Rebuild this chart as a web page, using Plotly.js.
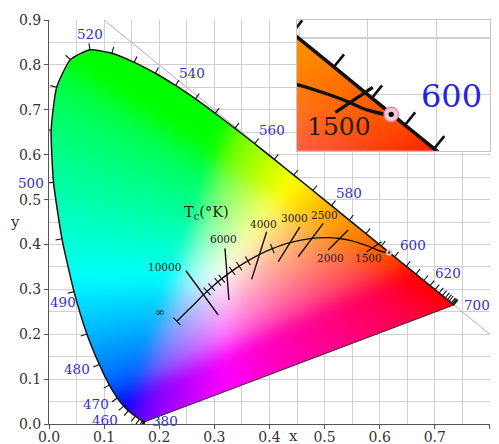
<!DOCTYPE html>
<html>
<head>
<meta charset="utf-8">
<script src="https://cdn.plot.ly/plotly-3.0.1.min.js"></script>
<style>
html,body{margin:0;padding:0;background:#fff;}
#chart{width:499px;height:444px;}
</style>
</head>
<body>
<div id="chart"></div>
<script>
// ---------------- DATA ----------------
// CIE 1931 spectral locus (wavelength in nm)
const wavelengths = [380,390,400,410,420,430,440,450,460,465,470,475,480,485,490,495,500,505,510,515,520,525,530,535,540,545,550,555,560,565,570,575,580,585,590,595,600,605,610,615,620,625,630,635,640,645,650,660,670,680,700];
const locusX = [0.1741,0.1738,0.1733,0.1726,0.1714,0.1689,0.1644,0.1566,0.1440,0.1355,0.1241,0.1096,0.0913,0.0687,0.0454,0.0235,0.0082,0.0039,0.0139,0.0389,0.0743,0.1142,0.1547,0.1929,0.2296,0.2658,0.3016,0.3373,0.3731,0.4087,0.4441,0.4788,0.5125,0.5448,0.5752,0.6029,0.6270,0.6482,0.6658,0.6801,0.6915,0.7006,0.7079,0.7140,0.7190,0.7230,0.7260,0.7300,0.7320,0.7334,0.7347];
const locusY = [0.0050,0.0049,0.0048,0.0048,0.0051,0.0069,0.0109,0.0177,0.0297,0.0399,0.0578,0.0868,0.1327,0.2007,0.2950,0.4127,0.5384,0.6548,0.7502,0.8120,0.8338,0.8262,0.8059,0.7816,0.7543,0.7243,0.6923,0.6589,0.6245,0.5896,0.5547,0.5202,0.4866,0.4544,0.4242,0.3965,0.3725,0.3514,0.3340,0.3197,0.3083,0.2993,0.2920,0.2859,0.2809,0.2770,0.2740,0.2700,0.2680,0.2666,0.2653];
const waveLabels = [380,460,470,480,490,500,520,540,560,580,600,620,700];

// Planckian locus
const planckT = ['∞',15000,12000,10000,9000,8000,7000,6500,6000,5500,5000,4500,4000,3500,3000,2500,2200,2000,1800,1600,1500,1400,1300];
const planckX = [0.2320,0.2637,0.2718,0.2807,0.2869,0.2952,0.3064,0.3135,0.3221,0.3325,0.3451,0.3608,0.3805,0.4053,0.4369,0.4770,0.5064,0.5267,0.5497,0.5730,0.5857,0.5993,0.6160];
const planckY = [0.2290,0.2672,0.2776,0.2884,0.2956,0.3048,0.3166,0.3236,0.3318,0.3411,0.3516,0.3636,0.3768,0.3907,0.4041,0.4137,0.4152,0.4133,0.4081,0.3990,0.3931,0.3860,0.3810];
const planckMinorT = ['∞',9000,8000,7000,6500,5500,5000,4500,3500];

// Isotherm (constant Tc) lines: upper end and lower end
const isoT  = [10000,6000,4000,3000,2500,2000,1500];
const isoX1 = [0.2485,0.3193,0.3949,0.4553,0.4976,0.5429,0.6035];
const isoY1 = [0.3415,0.3914,0.4284,0.4395,0.4471,0.4322,0.4061];
const isoX2 = [0.3071,0.3265,0.3677,0.4160,0.4522,0.5067,0.5763];
const isoY2 = [0.2428,0.2762,0.3223,0.3616,0.3727,0.3876,0.3838];

// Measured sample chromaticity
const sampleX = [0.617];
const sampleY = [0.382];

// x + y = 1 reference line
const diagX = [0.1, 0.8];
const diagY = [0.9, 0.2];

// ---------------- STYLE / LAYOUT ----------------
const W = 499, H = 444;
const M = {l:49, r:9, t:20, b:20};
const PW = W - M.l - M.r, PH = H - M.t - M.b;
const XR = [0, 0.8002], YR = [0, 0.9002];
const sx = PW / (XR[1]-XR[0]), sy = PH / (YR[1]-YR[0]);
const INSET_DOM_X = [0.5624, 1], INSET_DOM_Y = [0.6766, 1];
const IXR = [0.5484, 0.6889], IYR = [0.3497, 0.4660];
const FONT = 'DejaVu Serif, Liberation Serif, serif';
const BLUE = '#3333b8';
const GRID = '#d0d0d0';

// pixel offsets (screen px, +y down) of wavelength labels from their locus point
const waveLabelShift = {380:[20,-1],460:[-23,9],470:[-21.6,6],480:[-22,5],490:[-11,10],500:[-22.5,1],520:[0,-16],540:[16,-12],560:[17,-14],580:[17.5,-12.6],600:[18.7,-11.8],620:[18,-12.6],700:[23.5,0]};
// temperature label shifts (relative to upper end, or lower end for 2000/1500)
const isoLabelShift = {10000:[-2.7,-4,'right','top'],6000:[-1,-9,'center','top'],4000:[-3.4,-7.7,'center','top'],3000:[-5,-8.4,'center','top'],2500:[1.7,-8.3,'center','top'],2000:[2.7,7.5,'center','bottom'],1500:[1.6,5.8,'center','bottom']};

// ---------------- COLOUR FILL (image of the gamut) ----------------
function chroma(x, y) {
  if (y < 0.002) y = 0.002;
  const s = x + y;
  if (s > 0.999) { x = x*0.999/s; y = y*0.999/s; }
  const X = x / y, Y = 1, Z = (1 - x - y) / y;
  let r = 3.2406*X - 1.5372*Y - 0.4986*Z;
  let g = -0.9689*X + 1.8758*Y + 0.0415*Z;
  let b = 0.0557*X - 0.2040*Y + 1.0570*Z;
  r = Math.max(r,0); g = Math.max(g,0); b = Math.max(b,0);
  const m = Math.max(r,g,b) || 1;
  const gam = v => { v = v/m; return v <= 0.0031308 ? 12.92*v : 1.055*Math.pow(v,1/2.4) - 0.055; };
  return [gam(r)*255, gam(g)*255, gam(b)*255];
}
function boxBlur(a, w, h, r) {
  const t = new Float32Array(a.length);
  const n = 2*r+1;
  for (let j = 0; j < h; j++) {
    let s = 0;
    for (let k = -r; k <= r; k++) s += a[j*w + Math.min(w-1, Math.max(0,k))];
    for (let i = 0; i < w; i++) {
      t[j*w+i] = s/n;
      s += a[j*w + Math.min(w-1, i+r+1)] - a[j*w + Math.max(0, i-r)];
    }
  }
  for (let i = 0; i < w; i++) {
    let s = 0;
    for (let k = -r; k <= r; k++) s += t[Math.min(h-1, Math.max(0,k))*w + i];
    for (let j = 0; j < h; j++) {
      a[j*w+i] = s/n;
      s += t[Math.min(h-1, j+r+1)*w + i] - t[Math.max(0, j-r)*w + i];
    }
  }
}
// row 0 of the canvas holds the LOWEST y (plotly draws row 0 at y0 here)
function gamutImage(xr, yr, w, h, r) {
  const pad = 3*r + 2, w2 = w + 2*pad, h2 = h + 2*pad;
  const ddx = (xr[1]-xr[0])/w, ddy = (yr[1]-yr[0])/h;
  const R = new Float32Array(w2*h2), G = new Float32Array(w2*h2), B = new Float32Array(w2*h2);
  for (let j = 0; j < h2; j++) {
    const y = yr[0] + (j - pad + 0.5)*ddy;
    for (let i = 0; i < w2; i++) {
      const x = xr[0] + (i - pad + 0.5)*ddx;
      const c3 = chroma(x, y), k = j*w2+i;
      R[k] = c3[0]; G[k] = c3[1]; B[k] = c3[2];
    }
  }
  [R,G,B].forEach(ch => { boxBlur(ch, w2, h2, r); boxBlur(ch, w2, h2, r); boxBlur(ch, w2, h2, r); });
  const c = document.createElement('canvas'); c.width = w; c.height = h;
  const ctx = c.getContext('2d');
  const img = ctx.createImageData(w, h);
  for (let j = 0; j < h; j++) for (let i = 0; i < w; i++) {
    const k = 4*(j*w+i), q = (j+pad)*w2 + (i+pad);
    img.data[k] = R[q]; img.data[k+1] = G[q]; img.data[k+2] = B[q]; img.data[k+3] = 255;
  }
  ctx.putImageData(img, 0, 0);
  ctx.globalCompositeOperation = 'destination-in';
  ctx.beginPath();
  for (let k = 0; k < locusX.length; k++) {
    const px = (locusX[k]-xr[0])/(xr[1]-xr[0])*w, py = (locusY[k]-yr[0])/(yr[1]-yr[0])*h;
    if (k === 0) ctx.moveTo(px, py); else ctx.lineTo(px, py);
  }
  ctx.closePath(); ctx.fill();
  return c.toDataURL('image/png');
}
function imageTrace(xr, yr, w, h, r, xa, ya) {
  const dx = (xr[1]-xr[0])/w, dy = (yr[1]-yr[0])/h;
  return {type:'image', source: gamutImage(xr, yr, w, h, r), x0: xr[0]+dx/2, dx: dx,
          y0: yr[1]-dy/2, dy: -dy, xaxis: xa, yaxis: ya, hoverinfo:'skip'};
}

// ---------------- TICKS ALONG CURVES ----------------
function normalAt(X, Y, i) {
  let a = i, b = i;
  const dist = (p,q) => Math.hypot((X[p]-X[q])*sx, (Y[p]-Y[q])*sy);
  do { a = Math.max(a-1, 0); } while (a > 0 && dist(a,i) < 3);
  do { b = Math.min(b+1, X.length-1); } while (b < X.length-1 && dist(b,i) < 3);
  const dx = (X[b]-X[a])*sx, dy = (Y[b]-Y[a])*sy;
  const L = Math.hypot(dx, dy) || 1;
  return [-dy/L, dx/L];   // left normal (outward for this traversal)
}
function tickSegments(X, Y, idx, lenOut, lenIn) {
  const tx = [], ty = [];
  idx.forEach(i => {
    const n = normalAt(X, Y, i);
    tx.push(X[i] - n[0]*lenIn/sx, X[i] + n[0]*lenOut/sx, null);
    ty.push(Y[i] - n[1]*lenIn/sy, Y[i] + n[1]*lenOut/sy, null);
  });
  return [tx, ty];
}
const locusTicks = tickSegments(locusX, locusY, wavelengths.map((w,i)=>i), 6.5, 0);
const planckTicks = tickSegments(planckX, planckY, planckMinorT.map(t => planckT.indexOf(t)), 5, 5);

const isoLX = [], isoLY = [];
isoT.forEach((t,i) => { isoLX.push(isoX1[i], isoX2[i], null); isoLY.push(isoY1[i], isoY2[i], null); });

// ---------------- TRACES ----------------
function curveTraces(xa, ya, k) {
  return [
    {x: diagX, y: diagY, mode:'lines', line:{color:'#b0b0b0', width:1*k}, xaxis:xa, yaxis:ya, hoverinfo:'skip'},
    null, // placeholder for image
    {x: [locusX[locusX.length-1], locusX[0]], y: [locusY[locusY.length-1], locusY[0]], mode:'lines',
     line:{color:'#333', width:1*k}, xaxis:xa, yaxis:ya, hoverinfo:'skip'},
    {x: locusX, y: locusY, mode:'lines', line:{color:'#111', width:1.5*k, shape:'spline', smoothing:0.5}, xaxis:xa, yaxis:ya, hoverinfo:'skip'},
    {x: locusTicks[0], y: locusTicks[1], mode:'lines', line:{color:'#111', width:1.1*k}, xaxis:xa, yaxis:ya, hoverinfo:'skip'},
    {x: isoLX, y: isoLY, mode:'lines', line:{color:'#111', width:1.4*k}, xaxis:xa, yaxis:ya, hoverinfo:'skip'},
    {x: planckX, y: planckY, mode:'lines', line:{color:'#111', width:1.4*k, shape:'spline', smoothing:0.8}, xaxis:xa, yaxis:ya, hoverinfo:'skip'},
    {x: planckTicks[0], y: planckTicks[1], mode:'lines', line:{color:'#111', width:1.1*k}, xaxis:xa, yaxis:ya, hoverinfo:'skip'},
    {x: sampleX, y: sampleY, mode:'markers', marker:{size:5*k*1.2, color:'#f7c8d8', line:{color:'#d890ac', width:0.6*k}}, xaxis:xa, yaxis:ya, hoverinfo:'skip'},
    {x: sampleX, y: sampleY, mode:'markers', marker:{size:2.2*k, color:'#000'}, xaxis:xa, yaxis:ya, hoverinfo:'skip'}
  ];
}
const mainTr = curveTraces('x','y',1);
mainTr[1] = imageTrace([0,0.8],[0,0.9], Math.round(0.8*sx), Math.round(0.9*sy), 7, 'x','y');
const insetTr = curveTraces('x2','y2',2.4);
insetTr[1] = imageTrace(IXR, IYR, Math.round(PW*(INSET_DOM_X[1]-INSET_DOM_X[0])), Math.round(PH*(INSET_DOM_Y[1]-INSET_DOM_Y[0])), 17, 'x2','y2');
const traces = mainTr.concat(insetTr);

// ---------------- ANNOTATIONS ----------------
const ann = [];
const labelPos = {};
waveLabels.forEach(w => {
  const i = wavelengths.indexOf(w), s = waveLabelShift[w];
  labelPos[w] = [locusX[i] + s[0]/sx, locusY[i] - s[1]/sy];
  ann.push({x: locusX[i], y: locusY[i], xref:'x', yref:'y', xshift: s[0], yshift: -s[1],
            text: String(w), showarrow:false,
            xanchor:'center', yanchor:'middle', font:{family:FONT, size:13.5, color:BLUE}});
});
const tempPos = {};
isoT.forEach((t,i) => {
  const s = isoLabelShift[t];
  const useTop = s[3] === 'top';
  const bx = useTop ? isoX1[i] : isoX2[i], by = useTop ? isoY1[i] : isoY2[i];
  tempPos[t] = [bx + s[0]/sx, by - s[1]/sy];
  ann.push({x: bx, y: by, xref:'x', yref:'y', xshift: s[0], yshift: -s[1], text: String(t), showarrow:false,
            xanchor: s[2], yanchor:'middle', font:{family:FONT, size:10.5, color:'#222'}});
});
// infinity label
{
  const i = planckT.indexOf('∞');
  ann.push({x: planckX[i], y: planckY[i], xshift:-17, yshift:9.5, xref:'x', yref:'y', text:'∞', showarrow:false,
            xanchor:'center', yanchor:'middle', font:{family:FONT, size:12, color:'#222'}});
}
ann.push({x: 0.2855, y: 0.4695, xref:'x', yref:'y', text:'T<sub>c</sub>(°K)', showarrow:false,
          xanchor:'center', yanchor:'middle', font:{family:FONT, size:14.5, color:'#1a2a1a'}});
// inset labels (magnified view of the same labels)
ann.push({x: labelPos[600][0], y: labelPos[600][1], xref:'x2', yref:'y2', text:'600', showarrow:false,
          xanchor:'center', yanchor:'middle', font:{family:FONT, size:32, color:'#2424d8'}});
ann.push({x: tempPos[1500][0], y: tempPos[1500][1], xref:'x2', yref:'y2', text:'1500', showarrow:false,
          xanchor:'center', yanchor:'middle', font:{family:FONT, size:25, color:'#2a1a0a'}});
// axis titles
ann.push({x: (293-M.l)/PW, y: (M.t+PH-436)/PH, xref:'paper', yref:'paper', text:'x', showarrow:false,
          xanchor:'center', yanchor:'middle', font:{family:FONT, size:15, color:'#333'}});
ann.push({x: (15-M.l)/PW, y: (M.t+PH-222)/PH, xref:'paper', yref:'paper', text:'y', showarrow:false,
          xanchor:'center', yanchor:'middle', font:{family:FONT, size:15, color:'#333'}});

const axisCommon = {
  dtick:0.1, tick0:0, tickformat:'.1f', ticks:'outside', ticklen:4, tickcolor:'#555', tickwidth:1,
  showline:true, linecolor:'#555', linewidth:1, showgrid:true, gridcolor:GRID, gridwidth:1,
  zeroline:false, tickfont:{family:FONT, size:14, color:'#333'},
  minor:{dtick:0.05, tick0:0, showgrid:true, gridcolor:GRID, gridwidth:1, ticks:''},
  fixedrange:true
};
const insetCommon = {
  dtick:0.05, tick0:0, showticklabels:false, ticks:'', showgrid:true, gridcolor:'#cfcfcf', gridwidth:1.2,
  showline:true, mirror:true, linecolor:'#c4c4c4', linewidth:1, zeroline:false, fixedrange:true
};

const layout = {
  width:W, height:H, margin:M, showlegend:false,
  paper_bgcolor:'#ffffff', plot_bgcolor:'#ffffff',
  xaxis: Object.assign({}, axisCommon, {range:XR, autorange:false, anchor:'y', ticklabelstandoff:-4}),
  yaxis: Object.assign({}, axisCommon, {range:YR, autorange:false, anchor:'x', scaleanchor:false}),
  xaxis2: Object.assign({}, insetCommon, {range:IXR, autorange:false, domain:INSET_DOM_X, anchor:'y2'}),
  yaxis2: Object.assign({}, insetCommon, {range:IYR, autorange:false, domain:INSET_DOM_Y, anchor:'x2', scaleanchor:false}),
  annotations: ann
};

Plotly.newPlot('chart', traces, layout, {staticPlot:true, displayModeBar:false});
</script>
</body>
</html>
